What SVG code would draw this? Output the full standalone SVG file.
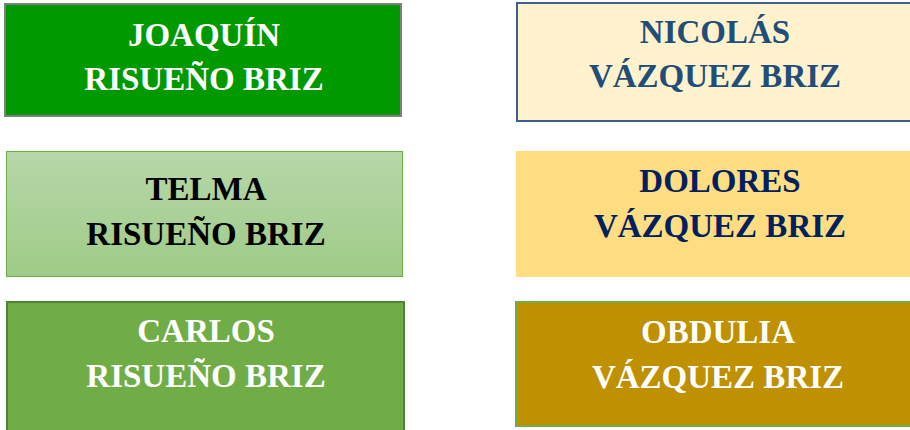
<svg xmlns="http://www.w3.org/2000/svg" width="910" height="430" viewBox="0 0 910 430">
<style>
  text { font-family: "Liberation Serif", "Times New Roman", serif; font-weight: bold; font-size: 33px; text-anchor: middle; }
  .w { fill: #ffffff; }
  .k { fill: #000000; }
  .b1 { fill: #1f4e79; }
  .b2 { fill: #002060; }
</style>
<defs>
  <linearGradient id="gTelma" x1="0" y1="0" x2="0" y2="1">
    <stop offset="0" stop-color="#b7d7a9"/>
    <stop offset="1" stop-color="#9ecb86"/>
  </linearGradient>
</defs>
<rect width="910" height="430" fill="#ffffff"/>
<g id="joaquin">
  <rect x="5" y="4" width="396" height="112" fill="#009900" stroke="#7f7f7f" stroke-width="2"/>
  <text class="w" x="204" y="46">JOAQUÍN</text>
  <text class="w" x="204" y="90">RISUEÑO BRIZ</text>
</g>
<g id="nicolas">
  <rect x="517" y="3" width="400" height="118" fill="#fff2cc" stroke="#3e5f93" stroke-width="2"/>
  <text class="b1" x="715" y="43">NICOLÁS</text>
  <text class="b1" x="715" y="87">VÁZQUEZ BRIZ</text>
</g>
<g id="telma">
  <rect x="6.5" y="151.5" width="396" height="125" fill="url(#gTelma)" stroke="#70ad47" stroke-width="1"/>
  <text class="k" x="206" y="200">TELMA</text>
  <text class="k" x="206" y="245">RISUEÑO BRIZ</text>
</g>
<g id="dolores">
  <rect x="516" y="151" width="400" height="126" fill="#ffdd80"/>
  <text class="b2" x="720" y="192">DOLORES</text>
  <text class="b2" x="720" y="237">VÁZQUEZ BRIZ</text>
</g>
<g id="carlos">
  <rect x="7" y="302" width="397" height="135" fill="#70ad47" stroke="#548235" stroke-width="2"/>
  <text class="w" x="206" y="342">CARLOS</text>
  <text class="w" x="206" y="387">RISUEÑO BRIZ</text>
</g>
<g id="obdulia">
  <rect x="516" y="302" width="400" height="124" fill="#bf9000" stroke="#70ad47" stroke-width="2"/>
  <text class="w" x="718" y="343">OBDULIA</text>
  <text class="w" x="718" y="388">VÁZQUEZ BRIZ</text>
</g>
<g id="connectors"></g>
</svg>
